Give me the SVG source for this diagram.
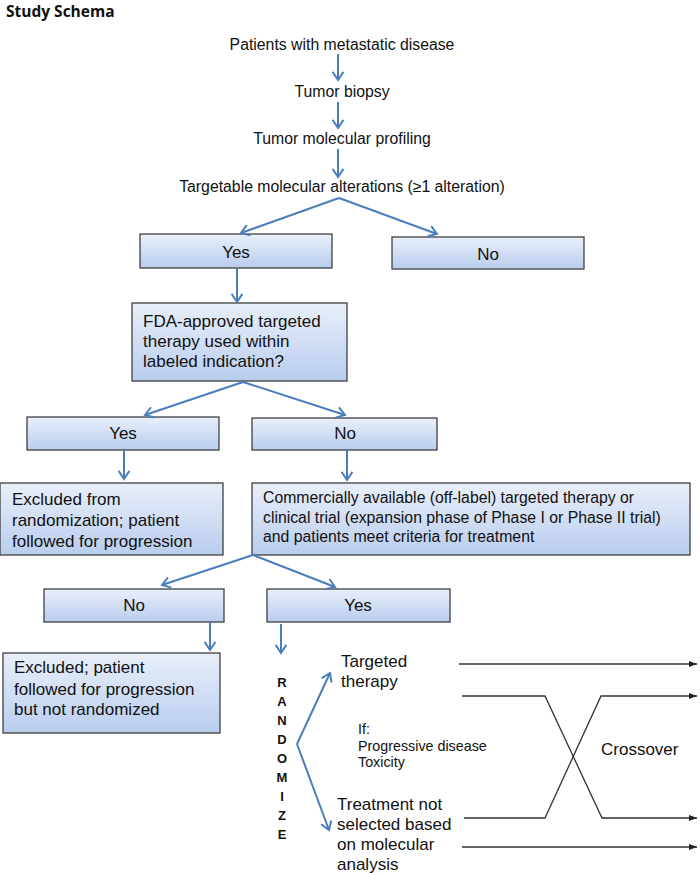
<svg xmlns="http://www.w3.org/2000/svg" width="700" height="873" viewBox="0 0 700 873">
<defs>
<linearGradient id="boxg" x1="0" y1="0" x2="0" y2="1">
<stop offset="0" stop-color="#e9eff9"/>
<stop offset="1" stop-color="#b9cdee"/>
</linearGradient>
<marker id="ba" viewBox="0 0 10 12" refX="8.5" refY="6" markerWidth="11" markerHeight="13" markerUnits="userSpaceOnUse" orient="auto">
<path d="M1,1 L8.5,6 L1,11" fill="none" stroke="#4a7ebb" stroke-width="1.8"/>
</marker>
<marker id="ka" viewBox="0 0 8 6" refX="8" refY="3" markerWidth="8" markerHeight="6" markerUnits="userSpaceOnUse" orient="auto">
<path d="M0,0 L8,3 L0,6 Z" fill="#222"/>
</marker>
</defs>
<style>
.t{font-family:"Liberation Sans",Arial,sans-serif;font-size:15.8px;fill:#111}
.t17{font-family:"Liberation Sans",Arial,sans-serif;font-size:17px;fill:#111}
.sm{font-family:"Liberation Sans",Arial,sans-serif;font-size:14.3px;fill:#111}
.c{text-anchor:middle}
.rz{font-family:"Liberation Sans",Arial,sans-serif;font-size:13px;font-weight:bold;fill:#111;text-anchor:middle}
.box{fill:url(#boxg);stroke:#404040;stroke-width:1.3}
.bl{fill:none;stroke:#4a7ebb;stroke-width:2;marker-end:url(#ba)}
.kl{fill:none;stroke:#333;stroke-width:1.3;marker-end:url(#ka)}
</style>
<rect width="700" height="873" fill="#ffffff"/>
<text x="6" y="17" font-family="'Open Sans','Liberation Sans',sans-serif" font-size="15.5" font-weight="bold" fill="#111">Study Schema</text>

<g id="patients"><text class="t c" x="342" y="50">Patients with metastatic disease</text></g>
<g id="biopsy"><text class="t c" x="342" y="97">Tumor biopsy</text></g>
<g id="profiling"><text class="t c" x="342" y="144">Tumor molecular profiling</text></g>
<g id="targetable"><text class="t c" x="342" y="192">Targetable molecular alterations (≥1 alteration)</text></g>

<g id="yes1"><rect class="box" x="140" y="234" width="192" height="34"/><text class="t17 c" x="236" y="258">Yes</text></g>
<g id="no1"><rect class="box" x="392" y="237" width="192" height="32"/><text class="t17 c" x="488" y="260">No</text></g>

<g id="fda"><rect class="box" x="132" y="303" width="215" height="78"/>
<text class="t17" x="143" y="327">FDA-approved targeted</text>
<text class="t17" x="143" y="347">therapy used within</text>
<text class="t17" x="143" y="367">labeled indication?</text></g>

<g id="yes2"><rect class="box" x="27" y="417" width="192" height="33"/><text class="t17 c" x="123" y="439">Yes</text></g>
<g id="no2"><rect class="box" x="252" y="418" width="185" height="32"/><text class="t17 c" x="345" y="439">No</text></g>

<g id="excluded1"><rect class="box" x="0" y="483" width="223" height="72"/>
<text class="t17" x="12" y="505">Excluded from</text>
<text class="t17" x="12" y="526">randomization; patient</text>
<text class="t17" x="12" y="547">followed for progression</text></g>

<g id="commercial"><rect class="box" x="252" y="483" width="438" height="72"/>
<text class="t" x="263" y="503">Commercially available (off-label) targeted therapy or</text>
<text class="t" x="263" y="523">clinical trial (expansion phase of Phase I or Phase II trial)</text>
<text class="t" x="263" y="542">and patients meet criteria for treatment</text></g>

<g id="no3"><rect class="box" x="44" y="589" width="180" height="33"/><text class="t17 c" x="134" y="611">No</text></g>
<g id="yes3"><rect class="box" x="267" y="589" width="183" height="33"/><text class="t17 c" x="358" y="611">Yes</text></g>

<g id="excluded2"><rect class="box" x="3" y="653" width="217" height="80"/>
<text class="t17" x="14" y="673">Excluded; patient</text>
<text class="t17" x="14" y="695">followed for progression</text>
<text class="t17" x="14" y="715">but not randomized</text></g>

<g id="randomize">
<text class="rz" x="282" y="687">R</text>
<text class="rz" x="282" y="706">A</text>
<text class="rz" x="282" y="725">N</text>
<text class="rz" x="282" y="744">D</text>
<text class="rz" x="282" y="763">O</text>
<text class="rz" x="282" y="782">M</text>
<text class="rz" x="282" y="801">I</text>
<text class="rz" x="282" y="820">Z</text>
<text class="rz" x="282" y="839">E</text>
</g>

<g id="targeted"><text class="t17" x="341" y="667">Targeted</text><text class="t17" x="341" y="687">therapy</text></g>
<g id="ifcond"><text class="sm" x="358" y="734">If:</text><text class="sm" x="358" y="751">Progressive disease</text><text class="sm" x="358" y="767">Toxicity</text></g>
<g id="crossover"><text class="t17" x="601" y="755">Crossover</text></g>
<g id="nonselected"><text class="t17" x="337" y="810">Treatment not</text><text class="t17" x="337" y="830">selected based</text><text class="t17" x="337" y="850">on molecular</text><text class="t17" x="337" y="870">analysis</text></g>

<g id="connectors">
<line class="bl" x1="338" y1="54" x2="338" y2="80"/>
<line class="bl" x1="338" y1="102" x2="338" y2="128"/>
<line class="bl" x1="338" y1="149" x2="338" y2="177"/>
<line class="bl" x1="339" y1="198" x2="241" y2="233"/>
<line class="bl" x1="339" y1="198" x2="437" y2="234"/>
<line class="bl" x1="237" y1="268" x2="237" y2="302"/>
<line class="bl" x1="243" y1="382" x2="145" y2="415"/>
<line class="bl" x1="243" y1="382" x2="345" y2="415"/>
<line class="bl" x1="124" y1="450" x2="124" y2="479"/>
<line class="bl" x1="347" y1="450" x2="347" y2="480"/>
<line class="bl" x1="253" y1="555" x2="162" y2="585"/>
<line class="bl" x1="253" y1="555" x2="335" y2="587"/>
<line class="bl" x1="210" y1="622" x2="210" y2="650"/>
<line class="bl" x1="281" y1="624" x2="281" y2="653"/>
<line class="bl" x1="297" y1="744" x2="330" y2="673"/>
<line class="bl" x1="297" y1="744" x2="329" y2="830"/>
<line class="kl" x1="459" y1="664" x2="697" y2="664"/>
<polyline class="kl" points="462,696 545,696 602,818 697,818"/>
<polyline class="kl" points="464,818 545,818 601,696 697,696"/>
<line class="kl" x1="462" y1="847" x2="697" y2="847"/>
</g>
</svg>
